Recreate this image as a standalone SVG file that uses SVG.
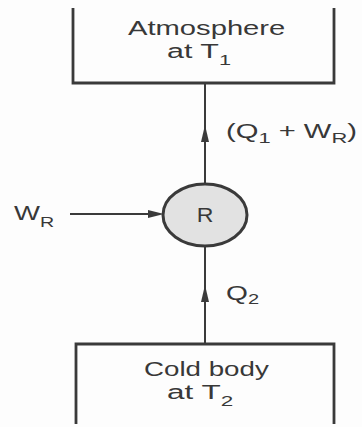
<svg xmlns="http://www.w3.org/2000/svg" width="362" height="427" viewBox="0 0 362 427">
<style>
text{font-family:"Liberation Sans",Arial,sans-serif;fill:#383838;font-size:21px;}
.box{fill:none;stroke:#3a3a3a;stroke-width:2.8;}
.ln{stroke:#3a3a3a;stroke-width:2;fill:none;}
.ah{fill:#3a3a3a;}
.sub{font-size:15px;}
</style>
<rect width="362" height="427" fill="#fdfdfd"/>
<g id="atmosphere">
<path class="box" d="M73,8 V83 H334 V8"/>
<text transform="translate(128,35) scale(1.39,1)">Atmosphere</text>
<text transform="translate(167,58) scale(1.45,1)">at T<tspan class="sub" dy="7">1</tspan></text>
</g>
<g id="cold-body">
<path class="box" d="M76,424 V344 H334 V424"/>
<text transform="translate(144,376) scale(1.32,1)">Cold body</text>
<text transform="translate(167,399) scale(1.5,1)">at T<tspan class="sub" dy="7">2</tspan></text>
</g>
<g id="refrigerator">
<ellipse cx="205" cy="215" rx="42" ry="31" fill="#e2e2e2" stroke="#3a3a3a" stroke-width="3"/>
<text transform="translate(205,222) scale(1.1,1)" text-anchor="middle">R</text>
</g>
<g id="connectors">
<line class="ln" x1="205" y1="184" x2="205" y2="83"/>
<path class="ah" d="M205,125 L209,142 L201,142 Z"/>
<line class="ln" x1="205" y1="344" x2="205" y2="246"/>
<path class="ah" d="M205,285 L209,302 L201,302 Z"/>
<line class="ln" x1="70" y1="214" x2="150" y2="214"/>
<path class="ah" d="M164,214 L148,210 L148,218 Z"/>
</g>
<g id="labels">
<text transform="translate(226,138) scale(1.46,1)" style="font-size:20px">(Q<tspan class="sub" dy="5">1</tspan><tspan dy="-5"> + W</tspan><tspan class="sub" dy="5">R</tspan><tspan dy="-5">)</tspan></text>
<text transform="translate(226,300) scale(1.34,1)">Q<tspan class="sub" dy="4">2</tspan></text>
<text transform="translate(14,220) scale(1.31,1)">W<tspan class="sub" dy="7">R</tspan></text>
</g>
</svg>
